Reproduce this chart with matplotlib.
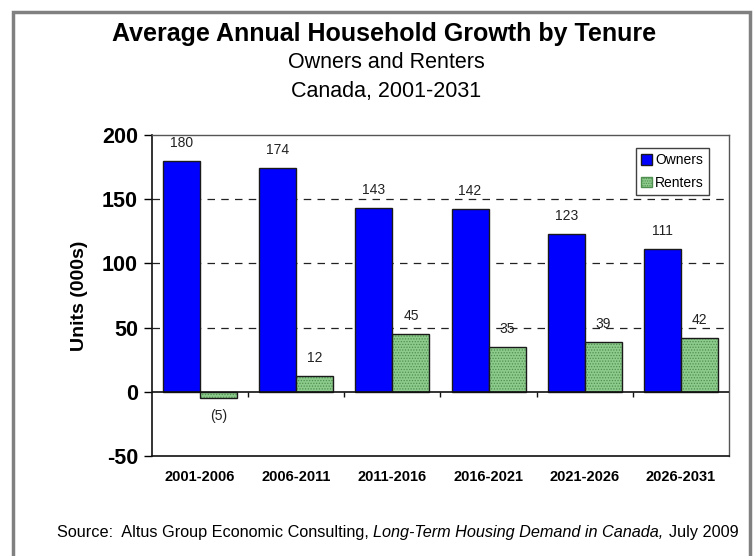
import matplotlib
matplotlib.use("Agg")
import matplotlib.pyplot as plt
from matplotlib.patches import Rectangle, Patch
import numpy as np

plt.rcParams['font.family'] = ['Liberation Sans', 'DejaVu Sans']
plt.rcParams['hatch.linewidth'] = 0.6

periods = ["2001-2006", "2006-2011", "2011-2016", "2016-2021", "2021-2026", "2026-2031"]
owners = [180, 174, 143, 142, 123, 111]
renters = [-5, 12, 45, 35, 39, 42]
yticks = [-50, 0, 50, 100, 150, 200]

fig = plt.figure(figsize=(7.53, 5.56), dpi=100)

# outer grey frame
fig.patches.append(Rectangle((13 / 753, -0.05), (750 - 13) / 753, 1.05 - 12 / 556,
                             transform=fig.transFigure, fill=False,
                             edgecolor='#808080', linewidth=2.5))

ax = fig.add_axes([152 / 753, 1 - 456 / 556, (729 - 152) / 753, (456 - 135) / 556])

x = np.arange(len(periods))
w = 0.385

ax.bar(x - w / 2, owners, w, color='#0000ff', edgecolor='#1a1a1a', linewidth=1.0, zorder=3,
       label='Owners')
ax.bar(x + w / 2, renters, w, color='#8ccb8c', edgecolor='#4f8f4f', hatch='......',
       linewidth=0, zorder=3)
ax.bar(x + w / 2, renters, w, fill=False, edgecolor='#1a1a1a', linewidth=1.0, zorder=4)

# value labels
def fmt(v):
    return f"({abs(v)})" if v < 0 else f"{v}"

for xi, v in zip(x - w / 2, owners):
    ax.text(xi, v + 14, fmt(v), ha='center', va='center', fontsize=10, color='#222222', zorder=5)
for xi, v in zip(x + w / 2, renters):
    ax.text(xi, v + (14 if v >= 0 else -14), fmt(v), ha='center', va='center', fontsize=10,
            color='#222222', zorder=5)

ax.set_xlim(-0.5, len(periods) - 0.5)
ax.set_ylim(-50, 200)
ax.set_yticks(yticks)
ax.set_yticklabels([str(t) for t in yticks], fontsize=15.5, fontweight='bold')
ax.tick_params(axis='y', direction='out', length=6, width=1, pad=4)
ax.set_xticks(x)
ax.set_xticklabels(periods, fontsize=10.5, fontweight='bold')
ax.tick_params(axis='x', length=0, pad=10)

# dashed gridlines
for g in [50, 100, 150]:
    ax.axhline(g, color='#222222', linestyle=(0, (6, 5)), linewidth=0.9, zorder=1)

# zero line and category dividers
ax.axhline(0, color='#111111', linewidth=1.2, zorder=5)
ax.vlines(np.arange(len(periods) - 1) + 0.5, -4, 0, color='#111111', linewidth=1.0, zorder=5)

for s in ['left', 'bottom']:
    ax.spines[s].set_color('#111111')
    ax.spines[s].set_linewidth(1.2)
for s in ['top', 'right']:
    ax.spines[s].set_color('#555555')
    ax.spines[s].set_linewidth(1.0)

ax.set_ylabel('Units (000s)', fontsize=14, fontweight='bold', labelpad=10)

leg = ax.legend(handles=[Patch(facecolor='#0000ff', edgecolor='#1a1a1a', label='Owners'),
                         Patch(facecolor='#8ccb8c', edgecolor='#4f8f4f', hatch='.......',
                               label='Renters')],
                loc='upper right', bbox_to_anchor=(0.966, 0.96), fontsize=10,
                frameon=True, fancybox=False, handlelength=0.8, handleheight=0.8,
                handletextpad=0.2, borderpad=0.4, labelspacing=0.6, borderaxespad=0)
leg.get_frame().set_edgecolor('#111111')
leg.get_frame().set_linewidth(1.0)

fig.text(384 / 753, 1 - 34 / 556, 'Average Annual Household Growth by Tenure',
         ha='center', va='center', fontsize=18, fontweight='bold')
fig.text(386 / 753, 1 - 63 / 556, 'Owners and Renters', ha='center', va='center', fontsize=15.5)
fig.text(386 / 753, 1 - 91 / 556, 'Canada, 2001-2031', ha='center', va='center', fontsize=15.5)

src_size = 11.7
src = fig.text(57 / 753, 1 - 533 / 556, 'Source:  Altus Group Economic Consulting, ', ha='left',
               va='center', fontsize=src_size)
fig.canvas.draw()
bb = src.get_window_extent()
t2 = fig.text(bb.x1 / 753, 1 - 533 / 556, 'Long-Term Housing Demand in Canada,', ha='left',
              va='center', fontsize=src_size, style='italic')
bb2 = t2.get_window_extent()
fig.text((bb2.x1 + 5) / 753, 1 - 533 / 556, 'July 2009', ha='left', va='center',
         fontsize=src_size)

fig.savefig('out.png', dpi=100)
